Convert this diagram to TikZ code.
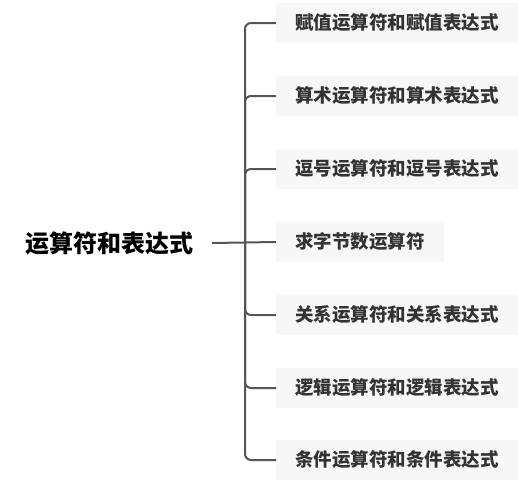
\documentclass[tikz,border=0pt]{standalone}
\usepackage{fontspec}
\newfontfamily\cjk{Noto Sans CJK SC}
\definecolor{boxgray}{HTML}{F7F7F7}
\definecolor{txtgray}{HTML}{333333}
\definecolor{linegray}{HTML}{555555}
\begin{document}
\begin{tikzpicture}[x=1pt, y=-1pt, every node/.style={font=\cjk\bfseries}]
  \tikzstyle{topic}=[fill=boxgray,text=txtgray,anchor=west,inner xsep=19pt,minimum height=40pt,font=\cjk\bfseries\fontsize{18.5}{20}\selectfont]
  \tikzstyle{conn}=[draw=linegray,line width=2pt,rounded corners=6pt]
  \useasboundingbox (0,0) rectangle (518,482);
  \node[inner xsep=19pt,font=\cjk\bfseries\fontsize{24}{26}\selectfont] (root) at (109,243) {运算符和表达式};
  \coordinate (hub) at (245,242);
  \node[topic] (c1) at (276,23) {赋值运算符和赋值表达式};
  \node[topic] (c2) at (276,96) {算术运算符和算术表达式};
  \node[topic] (c3) at (276,169) {逗号运算符和逗号表达式};
  \node[topic] (c4) at (276,242) {求字节数运算符};
  \node[topic] (c5) at (276,315) {关系运算符和关系表达式};
  \node[topic] (c6) at (276,388) {逻辑运算符和逻辑表达式};
  \node[topic] (c7) at (276,460) {条件运算符和条件表达式};
  \draw[conn] (root.east) -- (c4.west);
  \draw[conn] (hub) |- (c1.west);
  \draw[conn] (hub) |- (c2.west);
  \draw[conn] (hub) |- (c3.west);
  \draw[conn] (hub) |- (c5.west);
  \draw[conn] (hub) |- (c6.west);
  \draw[conn] (hub) |- (c7.west);
\end{tikzpicture}
\end{document}
